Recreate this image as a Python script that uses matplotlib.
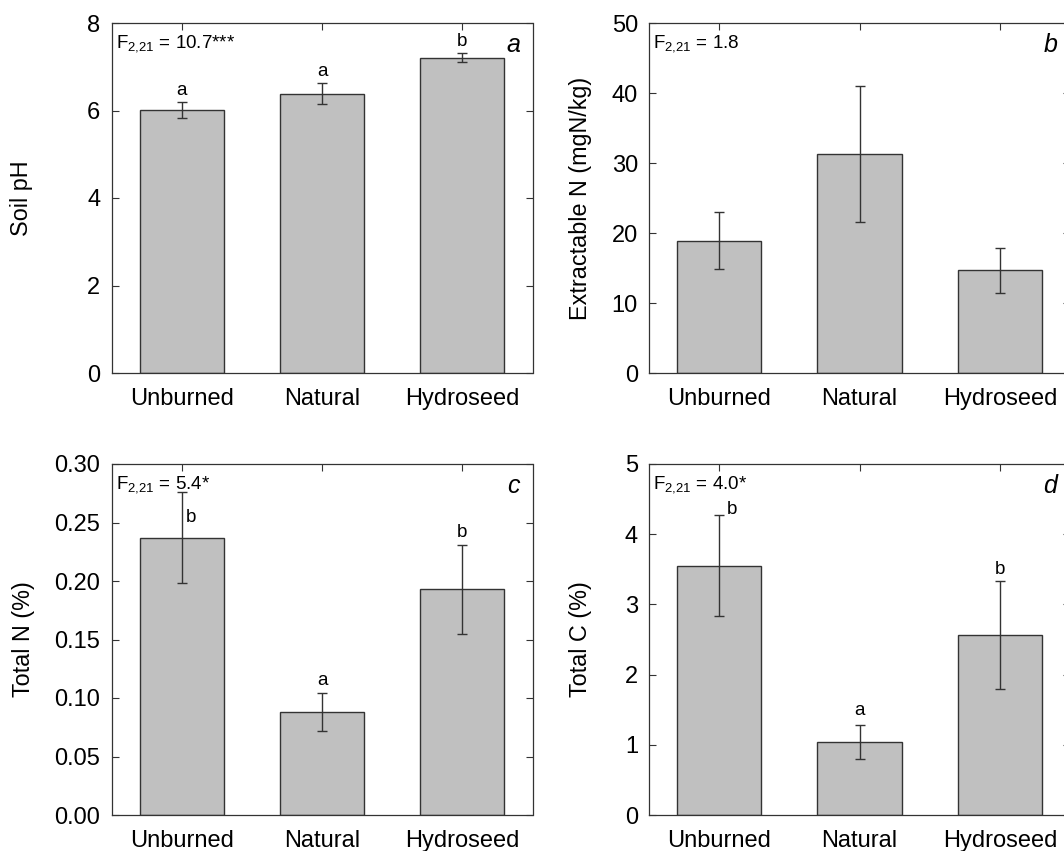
import matplotlib
matplotlib.use('Agg')
import matplotlib.pyplot as plt

plt.rcParams['font.family'] = ['Liberation Sans', 'DejaVu Sans']
plt.rcParams['mathtext.fontset'] = 'custom'
plt.rcParams['mathtext.rm'] = 'Liberation Sans'
plt.rcParams['mathtext.it'] = 'Liberation Sans:italic'

# Datos
sites = ['Unburned', 'Natural', 'Hydroseed']

ph_mean = [6.02, 6.38, 7.21]
ph_err = [0.18, 0.24, 0.10]
ph_letters = ['a', 'a', 'b']

extn_mean = [18.9, 31.3, 14.7]
extn_err = [4.1, 9.7, 3.2]
extn_letters = ['', '', '']

totn_mean = [0.237, 0.088, 0.193]
totn_err = [0.039, 0.016, 0.038]
totn_letters = ['b', 'a', 'b']

totc_mean = [3.55, 1.04, 2.57]
totc_err = [0.72, 0.24, 0.77]
totc_letters = ['b', 'a', 'b']

f_texts = ['F$_{\\mathrm{2{,}21}}$ = 10.7***', 'F$_{\\mathrm{2{,}21}}$ = 1.8',
           'F$_{\\mathrm{2{,}21}}$ = 5.4*', 'F$_{\\mathrm{2{,}21}}$ = 4.0*']

# Posiciones de los paneles (fracción de la figura)
W, H = 1064, 851
panels = [
    dict(rect=[111.5/W, (H-373)/H, 421/W, 350/H], mean=ph_mean, err=ph_err, letters=ph_letters,
         ylabel='Soil pH', ylim=(0, 8), yticks=[0, 2, 4, 6, 8], fmt='{:.0f}', tag='a', labx=-0.186,
         offs=[(0, 5), (0, 5), (0, 5)], base='top'),
    dict(rect=[649/W, (H-373)/H, 421/W, 350/H], mean=extn_mean, err=extn_err, letters=extn_letters,
         ylabel='Extractable N (mgN/kg)', ylim=(0, 50), yticks=[0, 10, 20, 30, 40, 50], fmt='{:.0f}',
         tag='b', labx=-0.135, offs=[(0, 5), (0, 5), (0, 5)], base='top'),
    dict(rect=[111.5/W, (H-815)/H, 421/W, 351/H], mean=totn_mean, err=totn_err, letters=totn_letters,
         ylabel='Total N (%)', ylim=(0, 0.30), yticks=[0, 0.05, 0.10, 0.15, 0.20, 0.25, 0.30],
         fmt='{:.2f}', tag='c', labx=-0.182, offs=[(7, 11), (0, 6), (0, 5.5)], base=['mean', 'top', 'top']),
    dict(rect=[649/W, (H-815)/H, 421/W, 351/H], mean=totc_mean, err=totc_err, letters=totc_letters,
         ylabel='Total C (%)', ylim=(0, 5), yticks=[0, 1, 2, 3, 4, 5], fmt='{:.0f}',
         tag='d', labx=-0.135, offs=[(9, 1), (0, 7), (0, 5)], base='top'),
]

edge = '#333333'
fig = plt.figure(figsize=(W/100, H/100), dpi=100)

for i, p in enumerate(panels):
    ax = fig.add_axes(p['rect'])
    x = range(len(sites))
    ax.bar(x, p['mean'], width=0.6, color='#c0c0c0', edgecolor=edge, linewidth=1.0, zorder=2)
    ax.errorbar(x, p['mean'], yerr=p['err'], fmt='none', ecolor=edge, elinewidth=1.0,
                capsize=3.8, capthick=1.0, zorder=3)
    ax.set_xlim(-0.5, 2.5)
    ax.set_ylim(*p['ylim'])
    ax.set_xticks(list(x))
    ax.set_xticklabels(sites)
    ax.set_yticks(p['yticks'])
    ax.set_yticklabels([p['fmt'].format(v) for v in p['yticks']])
    ax.tick_params(direction='in', length=5, width=0.8, color=edge, labelsize=17,
                   top=True, right=True)
    ax.tick_params(axis='x', pad=11)
    ax.tick_params(axis='y', pad=8)
    for s in ax.spines.values():
        s.set_color(edge)
        s.set_linewidth(0.9)
    ax.set_ylabel(p['ylabel'], fontsize=16.8)
    ax.yaxis.set_label_coords(p['labx'], 0.5)

    ax.text(0.01, 0.931, f_texts[i], transform=ax.transAxes, fontsize=13.5, va='baseline', ha='left')
    ax.text(0.97, 0.917, p['tag'], transform=ax.transAxes, fontsize=18, style='italic',
            va='baseline', ha='right')

    bases = p['base'] if isinstance(p['base'], list) else [p['base']] * 3
    for j, lt in enumerate(p['letters']):
        if not lt:
            continue
        y0 = p['mean'][j] + p['err'][j] if bases[j] == 'top' else p['mean'][j]
        ax.annotate(lt, xy=(j, y0), xytext=p['offs'][j], textcoords='offset points',
                    ha='center', va='baseline', fontsize=13.5)

fig.savefig('out.png', dpi=100)
